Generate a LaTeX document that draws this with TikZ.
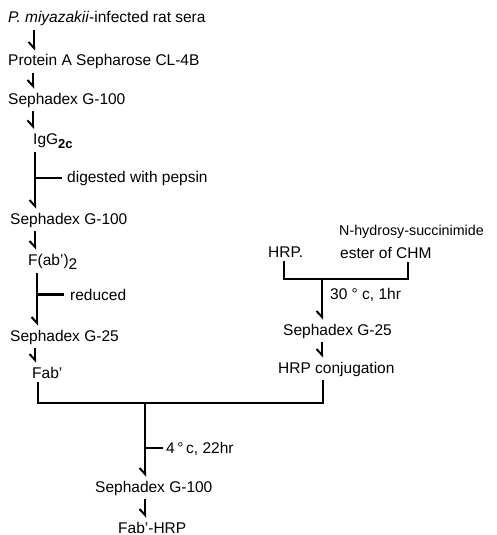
\documentclass[tikz,border=0pt]{standalone}
\usepackage{fontspec}
\setmainfont{Liberation Sans}
\usetikzlibrary{arrows.meta}
\tikzset{
  lbl/.style={anchor=base west, inner xsep=0pt, inner ysep=4pt, font=\fontsize{15.5}{18}\selectfont},
  arr/.style={line width=2.4pt, -{Straight Barb[harpoon,swap,length=6pt,width=11pt,line width=2pt]}},
  link/.style={line width=2.2pt}
}
\begin{document}
\begin{tikzpicture}[x=1pt,y=-1pt]
    \useasboundingbox (0,0) rectangle (497,535);
    % left column
    \node[lbl] (sera) at (8,23) {\textit{P. miyazakii}-infected rat sera};
    \node[lbl] (prot) at (8,66) {Protein A Sepharose CL-4B};
    \node[lbl] (sepa) at (8,104) {Sephadex G-100};
    \node[lbl] (igg) at (33,144) {IgG\raisebox{-4pt}{\fontsize{13}{13}\selectfont\bfseries 2c}};
    \node[lbl] (dig) at (67,182) {digested with pepsin};
    \node[lbl] (sepb) at (10,224) {Sephadex G-100};
    \node[lbl] (fab2) at (28,265) {F(ab')\raisebox{-4pt}{2}};
    \node[lbl] (red) at (70,300) {reduced};
    \node[lbl] (sepc) at (10,341) {Sephadex G-25};
    \node[lbl] (fab) at (32,378) {Fab'};
    % right column
    \node[lbl, font=\fontsize{14.3}{18}\selectfont] (nhs) at (339,235) {N-hydrosy-succinimide};
    \node[lbl] (hrp) at (268,257) {HRP.};
    \node[lbl] (chm) at (340,258) {ester of CHM};
    \node[lbl] (warm) at (330,299) {30 ° c, 1hr};
    \node[lbl] (sepd) at (283,335) {Sephadex G-25};
    \node[lbl] (conj) at (278,373) {HRP conjugation};
    % bottom
    \node[lbl] (cold) at (166,453) {4\,°\,c, 22hr};
    \node[lbl] (sepe) at (95,492) {Sephadex G-100};
    \node[lbl] (final) at (118,533) {Fab'-HRP};
    \coordinate (mix) at (322,279);
    \coordinate (merge) at (145,403);

    \draw[arr] ([xshift=26pt]sera.south west) -- ([xshift=26pt]prot.north west);
    \draw[arr] ([xshift=25pt]prot.south west) -- ([xshift=25pt]sepa.north west);
    \draw[arr] ([xshift=25pt]sepa.south west) -- ([xshift=0pt]igg.north west);
    \draw[arr] ([xshift=2pt]igg.south west) -- coordinate[pos=0.45] (cut1) ([xshift=25pt]sepb.north west);
    \draw[link] (cut1 |- dig.west) -- ([xshift=-5pt]dig.west);
    \draw[arr] ([xshift=25pt]sepb.south west) -- ([xshift=7pt]fab2.north west);
    \draw[arr] ([xshift=9pt]fab2.south west) -- coordinate[pos=0.5] (cut2) ([xshift=27pt]sepc.north west);
    \draw[link] (cut2 |- red.west) -- ([xshift=-6pt]red.west);
    \draw[arr] ([xshift=25pt]sepc.south west) -- ([xshift=3pt]fab.north west);
    \draw[link] ([xshift=6pt]fab.south west) |- (merge) -| ([xshift=45pt]conj.south west);

    \draw[link] ([xshift=16pt]hrp.south west) |- (mix) -| ([xshift=68pt]chm.south west);
    \draw[arr] (mix) -- ([xshift=39pt]sepd.north west);
    \draw[arr] ([xshift=39pt]sepd.south west) -- ([xshift=44pt]conj.north west);

    \draw[arr] (merge) -- coordinate[pos=0.6] (cut3) ([xshift=50pt]sepe.north west);
    \draw[link] (cut3 |- cold.west) -- ([xshift=-3pt]cold.west);
    \draw[arr] ([xshift=50pt]sepe.south west) -- ([xshift=27pt]final.north west);
\end{tikzpicture}
\end{document}
